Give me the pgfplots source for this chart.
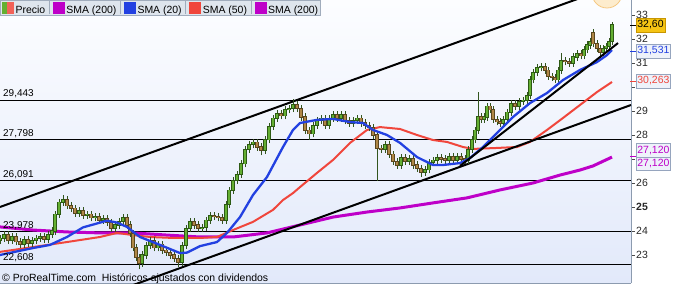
\documentclass[border=0pt]{standalone}
\usepackage{fontspec}
\setmainfont{Liberation Sans}
\usepackage{pgfplots}
\usepackage{pgfplotstable}
\pgfplotsset{compat=1.18}
\definecolor{smablue}{RGB}{35,65,225}
\definecolor{smared}{RGB}{240,70,60}
\definecolor{smamag}{RGB}{190,0,200}
\definecolor{upgreen}{RGB}{100,175,50}
\definecolor{upedge}{RGB}{45,90,20}
\definecolor{downbrown}{RGB}{175,135,70}
\definecolor{downedge}{RGB}{90,70,30}
\definecolor{wick}{RGB}{50,85,30}
\definecolor{bgtop}{RGB}{252,253,255}
\definecolor{bgbot}{RGB}{226,233,250}
\definecolor{axisgray}{RGB}{140,155,175}
\definecolor{legbg}{RGB}{222,229,237}
\definecolor{legborder}{RGB}{160,172,188}
\definecolor{boxborder}{RGB}{150,165,190}
\definecolor{boxfill}{RGB}{238,242,250}
\definecolor{goldbox}{RGB}{245,196,20}

\pgfplotstableread{
x o c hu ld
0 23.60 23.70 0.10 0.10
4 23.70 23.85 0.10 0.10
8 23.85 23.60 0.08 0.10
12 23.60 23.75 0.10 0.10
16 23.75 23.55 0.10 0.10
20 23.55 23.45 0.10 0.12
24 23.45 23.65 0.10 0.10
28 23.65 23.50 0.08 0.10
32 23.50 23.60 0.10 0.10
36 23.60 23.70 0.10 0.10
40 23.70 23.75 0.10 0.10
44 23.75 23.65 0.10 0.10
48 23.65 23.85 0.10 0.10
52 23.85 24.00 0.10 0.10
55 24.00 24.70 0.10 0.10
59 24.70 25.20 0.10 0.10
63 25.20 25.30 0.15 0.10
67 25.30 25.05 0.10 0.10
71 25.05 24.95 0.10 0.10
75 24.95 24.75 0.10 0.10
79 24.75 24.85 0.10 0.10
83 24.85 24.65 0.10 0.10
87 24.65 24.70 0.10 0.10
91 24.70 24.55 0.10 0.10
95 24.55 24.60 0.10 0.10
99 24.60 24.45 0.10 0.10
103 24.45 24.50 0.10 0.10
107 24.50 24.35 0.10 0.10
111 24.35 24.10 0.10 0.10
115 24.10 24.25 0.10 0.10
119 24.25 24.40 0.10 0.10
123 24.40 24.55 0.10 0.10
127 24.55 24.25 0.10 0.10
130 24.25 23.90 0.10 0.10
133 23.90 23.30 0.10 0.10
136 23.30 22.90 0.10 0.10
139 22.90 22.65 0.10 0.20
142 22.65 23.00 0.10 0.10
146 23.00 23.40 0.10 0.10
150 23.40 23.60 0.10 0.10
154 23.60 23.30 0.10 0.10
158 23.30 23.45 0.10 0.10
162 23.45 23.20 0.10 0.10
166 23.20 23.10 0.10 0.10
170 23.10 23.00 0.10 0.10
174 23.00 22.85 0.10 0.10
178 22.85 22.70 0.10 0.15
182 22.70 23.40 0.10 0.10
186 23.40 24.10 0.10 0.10
190 24.10 24.40 0.10 0.10
194 24.40 24.25 0.10 0.10
198 24.25 24.10 0.10 0.10
202 24.10 24.15 0.10 0.10
206 24.15 24.45 0.10 0.10
210 24.45 24.65 0.10 0.10
214 24.65 24.60 0.10 0.10
218 24.60 24.55 0.10 0.10
222 24.55 24.45 0.10 0.10
226 24.45 25.10 0.10 0.10
229 25.10 25.70 0.10 0.10
233 25.70 26.10 0.10 0.10
237 26.10 26.35 0.10 0.10
241 26.35 26.80 0.10 0.10
245 26.80 27.40 0.10 0.10
249 27.40 27.60 0.10 0.10
253 27.60 27.70 0.10 0.10
257 27.70 27.50 0.10 0.10
261 27.50 27.35 0.10 0.15
265 27.35 27.80 0.10 0.10
269 27.80 28.35 0.10 0.10
273 28.35 28.70 0.10 0.10
277 28.70 28.90 0.10 0.10
281 28.90 28.80 0.10 0.10
285 28.80 29.05 0.10 0.10
289 29.05 29.10 0.10 0.10
293 29.10 29.25 0.20 0.10
297 29.25 29.10 0.10 0.10
301 29.10 28.75 0.10 0.10
305 28.75 28.20 0.10 0.10
309 28.20 28.05 0.10 0.20
313 28.05 28.40 0.10 0.10
317 28.40 28.60 0.10 0.10
321 28.60 28.70 0.10 0.10
325 28.70 28.40 0.10 0.10
329 28.40 28.70 0.10 0.10
333 28.70 28.85 0.10 0.10
337 28.85 28.70 0.10 0.10
341 28.70 28.85 0.10 0.10
345 28.85 28.60 0.10 0.10
349 28.60 28.50 0.10 0.10
353 28.50 28.60 0.10 0.10
357 28.60 28.70 0.10 0.10
361 28.70 28.50 0.10 0.10
365 28.50 28.40 0.10 0.10
369 28.40 28.30 0.10 0.10
373 28.30 28.00 0.10 0.10
377 28.00 27.45 0.10 1.30
381 27.45 27.40 0.10 0.10
385 27.40 27.60 0.10 0.10
389 27.60 27.20 0.10 0.10
393 27.20 26.90 0.10 0.10
397 26.90 26.75 0.10 0.10
401 26.75 27.05 0.10 0.10
405 27.05 26.90 0.10 0.10
409 26.90 27.00 0.10 0.10
413 27.00 26.75 0.10 0.10
417 26.75 26.60 0.10 0.10
421 26.60 26.45 0.10 0.15
425 26.45 26.55 0.10 0.10
429 26.55 26.85 0.10 0.10
433 26.85 26.95 0.10 0.10
437 26.95 27.05 0.10 0.10
441 27.05 27.00 0.10 0.10
445 27.00 26.95 0.10 0.10
449 26.95 27.10 0.10 0.10
453 27.10 26.95 0.10 0.10
457 26.95 27.10 0.10 0.10
461 27.10 27.00 0.10 0.10
465 27.00 26.95 0.10 0.10
468 26.95 27.40 0.10 0.10
472 27.40 27.80 0.10 0.10
475 27.80 28.20 0.10 0.10
478 28.20 28.75 1.00 0.10
481 28.75 28.65 0.10 0.10
484 28.65 28.75 0.10 0.10
487 28.75 29.20 0.10 0.10
490 29.20 29.05 0.10 0.10
493 29.05 28.65 0.10 0.10
497 28.65 28.55 0.10 0.10
500 28.55 28.50 0.10 0.10
503 28.50 28.65 0.10 0.10
507 28.65 28.95 0.10 0.10
511 28.95 29.30 0.10 0.10
515 29.30 29.20 0.10 0.10
519 29.20 29.40 0.10 0.10
523 29.40 29.45 0.10 0.10
527 29.45 29.65 0.10 0.10
530 29.65 30.30 0.10 0.10
533 30.30 30.60 0.10 0.10
537 30.60 30.80 0.10 0.10
541 30.80 30.85 0.10 0.10
545 30.85 30.70 0.10 0.10
548 30.70 30.45 0.10 0.10
552 30.45 30.40 0.10 0.10
555 30.40 30.30 0.10 0.10
558 30.30 30.70 0.10 0.10
561 30.70 31.10 0.25 0.10
565 31.10 31.05 0.10 0.10
569 31.05 31.00 0.10 0.10
573 31.00 31.25 0.10 0.10
577 31.25 31.40 0.10 0.10
581 31.40 31.30 0.10 0.10
584 31.30 31.55 0.10 0.10
587 31.55 31.75 0.10 0.10
590 31.75 31.90 0.10 0.10
593 32.25 31.80 0.10 0.10
597 31.80 31.60 0.10 0.10
600 31.60 31.45 0.10 0.10
603 31.45 31.60 0.10 0.10
606 31.60 31.70 0.10 0.10
609 31.70 31.90 0.10 0.10
612 31.90 32.60 0.05 0.10
}\candles

\begin{document}
\begin{tikzpicture}
\useasboundingbox (0bp,0bp) rectangle (679bp,286bp);
\begin{scope}
\clip (0bp,0bp) rectangle (679bp,286bp);
\begin{axis}[
  at={(0bp,3bp)}, anchor=south west,
  scale only axis, width=631bp, height=283bp,
  xmin=0, xmax=631, ymin=21.833, ymax=33.625,
  axis x line*=bottom, axis y line*=right,
  axis line style={draw=axisgray, line width=0.8bp, -},
  xtick=\empty,
  ytick={23,24,25,26,27,28,29,30,31,32,33},
  yticklabels={23,24,\textbf{25},26,{},28,29,{},31,32,33},
  tick align=outside, major tick length=4bp,
  ytick style={draw=black!70, line width=0.6bp},
  yticklabel style={font=\fontsize{10.5}{12}\selectfont, inner sep=1bp, text=black!85},
  axis background/.style={top color=bgtop, bottom color=bgbot},
  legend columns=5,
  legend cell align=left,
  legend style={at={(0,1)}, anchor=north west, draw=legborder, fill=legbg,
    line width=0.6bp, inner xsep=2bp, inner ysep=0bp, outer sep=0pt,
    font=\fontsize{10.5}{11}\selectfont,
    nodes={inner sep=0pt},
    /tikz/every odd column/.style={column sep=2bp},
    /tikz/every even column/.style={column sep=3.5bp}},
]
% legend
\addlegendimage{legend image code/.code={
  \fill[upgreen] (0bp,-3bp) rectangle (5bp,8bp);
  \fill[smared!85!white] (5bp,-3bp) rectangle (11bp,8bp);}}
\addlegendentry{Precio}
\addlegendimage{legend image code/.code={
  \draw[legborder, line width=0.7bp] (-4bp,-4bp) -- (-4bp,10bp);
  \fill[smamag] (0bp,-3bp) rectangle (11bp,8bp);}}
\addlegendentry{SMA (200)}
\addlegendimage{legend image code/.code={
  \draw[legborder, line width=0.7bp] (-4bp,-4bp) -- (-4bp,10bp);
  \fill[smablue] (0bp,-3bp) rectangle (11bp,8bp);}}
\addlegendentry{SMA (20)}
\addlegendimage{legend image code/.code={
  \draw[legborder, line width=0.7bp] (-4bp,-4bp) -- (-4bp,10bp);
  \fill[smared] (0bp,-3bp) rectangle (11bp,8bp);}}
\addlegendentry{SMA (50)}
\addlegendimage{legend image code/.code={
  \draw[legborder, line width=0.7bp] (-4bp,-4bp) -- (-4bp,10bp);
  \fill[smamag] (0bp,-3bp) rectangle (11bp,8bp);}}
\addlegendentry{SMA (200)}

% horizontal levels
\addplot[black, line width=0.9bp, forget plot] coordinates {(0,29.443) (631,29.443)};
\addplot[black, line width=0.9bp, forget plot] coordinates {(0,27.798) (631,27.798)};
\addplot[black, line width=0.9bp, forget plot] coordinates {(0,26.091) (631,26.091)};
\addplot[black, line width=0.9bp, forget plot] coordinates {(0,23.978) (631,23.978)};
\addplot[black, line width=0.9bp, forget plot] coordinates {(0,22.608) (631,22.608)};

% SMA 200
\addplot[smamag, line width=3bp, line join=round, forget plot] coordinates {
(0,24.17)(33,24.04)(67,23.96)(100,23.92)(133,23.92)(167,23.83)(200,23.75)(233,23.75)(267,23.92)(300,24.25)(333,24.58)(367,24.79)(400,24.96)(433,25.17)(467,25.38)(500,25.71)(533,26.0)(560,26.33)(580,26.54)(593,26.71)(612,27.08)};
% SMA 50
\addplot[smared, line width=2bp, line join=round, forget plot] coordinates {
(0,23.13)(33,23.33)(67,23.54)(100,23.75)(117,23.92)(133,23.83)(150,23.75)(173,23.71)(200,23.71)(217,23.75)(233,24.04)(253,24.38)(273,24.88)(283,25.29)(293,25.58)(300,25.83)(317,26.42)(333,26.96)(350,27.67)(367,28.21)(380,28.33)(400,28.25)(417,28.0)(433,27.79)(447,27.71)(463,27.5)(473,27.42)(497,27.46)(517,27.5)(530,27.71)(547,28.21)(563,28.71)(580,29.25)(597,29.79)(612,30.21)};

% trend lines
\addplot[black, line width=2bp, forget plot] coordinates {(0,25.0) (631,34.47)};
\addplot[black, line width=2bp, forget plot] coordinates {(120,21.55) (631,29.25)};

% candles: wicks (low to high)
\addplot[forget plot, mark=none, draw=wick, line width=0.7bp,
  quiver={u=0, v={max(\thisrow{o},\thisrow{c})+\thisrow{hu}-min(\thisrow{o},\thisrow{c})+\thisrow{ld}+0.1}}]
  table[x=x, y expr={min(\thisrow{o},\thisrow{c})-\thisrow{ld}-0.05}] {\candles};
% up bodies: outline, then fill
\addplot[forget plot, mark=none, draw=upedge, line width=3.2bp,
  quiver={u=0, v={(\thisrow{c}>=\thisrow{o}) ? (\thisrow{c}-\thisrow{o}+0.05) : 0}}]
  table[x=x, y expr={\thisrow{o}-0.025}] {\candles};
\addplot[forget plot, mark=none, draw=upgreen, line width=1.8bp,
  quiver={u=0, v={(\thisrow{c}>=\thisrow{o}) ? max(\thisrow{c}-\thisrow{o}-0.01,0.02) : 0}}]
  table[x=x, y expr={\thisrow{o}+0.005}] {\candles};
% down bodies: outline, then fill
\addplot[forget plot, mark=none, draw=downedge, line width=3.2bp,
  quiver={u=0, v={(\thisrow{c}<\thisrow{o}) ? (\thisrow{o}-\thisrow{c}+0.05) : 0}}]
  table[x=x, y expr={\thisrow{c}-0.025}] {\candles};
\addplot[forget plot, mark=none, draw=downbrown, line width=1.8bp,
  quiver={u=0, v={(\thisrow{c}<\thisrow{o}) ? max(\thisrow{o}-\thisrow{c}-0.01,0.02) : 0}}]
  table[x=x, y expr={\thisrow{c}+0.005}] {\candles};

% SMA 20
\addplot[smablue, line width=2.3bp, line join=round, forget plot] coordinates {
(0,23.0)(33,23.29)(50,23.42)(67,23.75)(83,24.15)(107,24.43)(117,24.35)(127,24.17)(140,23.75)(160,23.42)(180,23.08)(187,23.1)(200,23.37)(217,23.54)(227,23.92)(240,24.58)(253,25.5)(267,26.25)(283,27.5)(293,28.21)(300,28.5)(317,28.63)(333,28.67)(350,28.54)(363,28.5)(373,28.21)(387,28.0)(400,27.67)(417,27.08)(433,26.75)(443,26.75)(460,26.83)(470,27.04)(483,27.5)(497,28.08)(513,28.75)(530,29.33)(547,29.75)(563,30.29)(580,30.71)(597,31.04)(607,31.33)(612,31.54)};
% support line
\addplot[black, line width=2bp, forget plot] coordinates {(460,26.71) (618,31.83)};

% level labels
\node[anchor=base west, inner sep=0pt, yshift=3.5bp, font=\fontsize{10}{12}\selectfont] at (axis cs:3,29.443) {29,443};
\node[anchor=base west, inner sep=0pt, yshift=3.5bp, font=\fontsize{10}{12}\selectfont] at (axis cs:3,27.798) {27,798};
\node[anchor=base west, inner sep=0pt, yshift=3.5bp, font=\fontsize{10}{12}\selectfont] at (axis cs:3,26.091) {26,091};
\node[anchor=base west, inner sep=0pt, yshift=3.5bp, font=\fontsize{10}{12}\selectfont] at (axis cs:3,23.978) {23,978};
\node[anchor=base west, inner sep=0pt, yshift=3.5bp, font=\fontsize{10}{12}\selectfont] at (axis cs:3,22.608) {22,608};
\node[anchor=base west, inner sep=0pt, xshift=2bp, yshift=1.8bp, font=\fontsize{10.5}{12}\selectfont] at (rel axis cs:0,0) {© ProRealTime.com\ \ Históricos ajustados con dividendos};
\end{axis}
\draw[draw={rgb,255:red,245;green,200;blue,130}, fill={rgb,255:red,253;green,236;blue,205}, line width=0.8bp] (607bp,293bp) circle (15bp);
\end{scope}
% value boxes on the right
\tikzset{valbox/.style={anchor=west, draw=boxborder, fill=boxfill, inner xsep=1.2bp, inner ysep=0bp, minimum height=13.5bp, font=\fontsize{10.5}{11}\selectfont}}
\draw[black, line width=0.8bp] (630bp,261bp) -- (636bp,261bp);
\node[valbox, draw={rgb,255:red,200;green,150;blue,0}, fill=goldbox, text=black] at (636bp,261bp) {32,60};
\draw[smablue, line width=0.8bp] (630bp,235bp) -- (636bp,235bp);
\node[valbox, text=smablue] at (636bp,235bp) {31,531};
\draw[smared, line width=0.8bp] (630bp,205bp) -- (636bp,205bp);
\node[valbox, text=smared] at (636bp,205bp) {30,263};
\draw[smamag, line width=0.8bp] (630bp,130bp) -- (636bp,130bp);
\node[valbox, text=smamag] at (636bp,135.75bp) {27,120};
\node[valbox, text=smamag] at (636bp,122.25bp) {27,120};
\end{tikzpicture}
\end{document}
